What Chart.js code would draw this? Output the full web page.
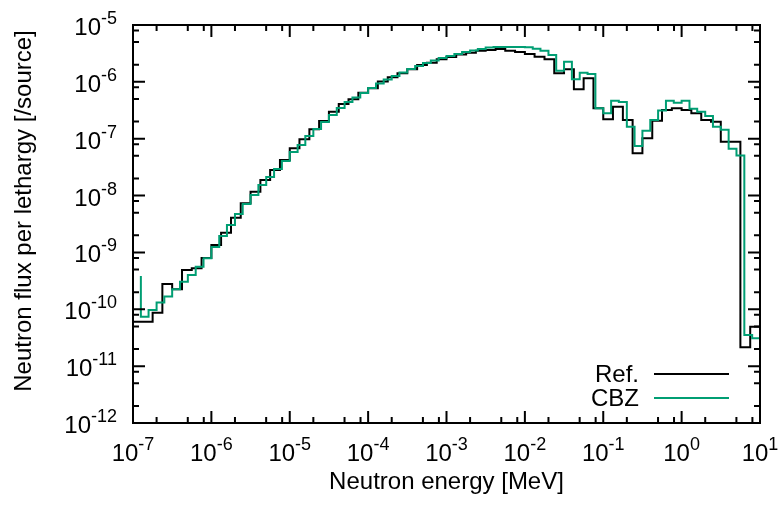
<!DOCTYPE html>
<html>
<head>
<meta charset="utf-8">
<script src="https://cdn.jsdelivr.net/npm/chart.js@4/dist/chart.umd.min.js"></script>
<style>
  html, body { margin: 0; padding: 0; background: #fff; }
  canvas { display: block; }
</style>
</head>
<body>
<canvas id="fluxChart" width="778" height="505"></canvas>
<script>
// group lower edges (last entry = upper edge of the last group), MeV
const refEnergy = [
  1.00e-7, 1.33e-7, 1.78e-7, 2.37e-7, 3.16e-7, 4.22e-7, 5.62e-7, 7.50e-7,
  1.00e-6, 1.33e-6, 1.78e-6, 2.37e-6, 3.16e-6, 4.22e-6, 5.62e-6, 7.50e-6,
  1.00e-5, 1.33e-5, 1.78e-5, 2.37e-5, 3.16e-5, 4.22e-5, 5.62e-5, 7.50e-5,
  1.00e-4, 1.33e-4, 1.78e-4, 2.37e-4, 3.16e-4, 4.22e-4, 5.62e-4, 7.50e-4,
  1.00e-3, 1.33e-3, 1.78e-3, 2.37e-3, 3.16e-3, 4.22e-3, 5.62e-3, 7.50e-3,
  1.00e-2, 1.33e-2, 1.78e-2, 2.37e-2, 3.16e-2, 4.22e-2, 5.62e-2, 7.50e-2,
  1.00e-1, 1.33e-1, 1.78e-1, 2.37e-1, 3.16e-1, 4.22e-1, 5.62e-1, 7.50e-1,
  1.00, 1.33, 1.78, 2.37, 3.16, 4.22, 5.62, 7.50,
  10.0
];
const refFlux = [
  6.05e-11, 6.05e-11, 8.71e-11, 2.79e-10, 2.25e-10, 4.91e-10, 5.26e-10, 7.98e-10,
  1.35e-9, 2.22e-9, 4.08e-9, 7.31e-9, 1.17e-8, 1.88e-8, 2.82e-8, 4.23e-8,
  6.79e-8, 9.77e-8, 1.47e-7, 2.05e-7, 2.99e-7, 4.08e-7, 4.93e-7, 6.44e-7,
  7.71e-7, 1.01e-6, 1.20e-6, 1.42e-6, 1.66e-6, 1.98e-6, 2.17e-6, 2.49e-6,
  2.74e-6, 3.03e-6, 3.26e-6, 3.53e-6, 3.63e-6, 3.78e-6, 3.53e-6, 3.35e-6,
  3.09e-6, 2.77e-6, 2.49e-6, 1.42e-6, 1.66e-6, 7.40e-7, 1.16e-6, 3.43e-7,
  2.20e-7, 3.66e-7, 2.13e-7, 5.54e-8, 1.02e-7, 2.07e-7, 3.20e-7, 3.43e-7,
  3.20e-7, 2.80e-7, 2.13e-7, 1.99e-7, 8.87e-8, 8.87e-8, 2.15e-11, 4.94e-11
];

const cbzEnergy = [
  1.26e-7, 1.26e-7, 1.58e-7, 2.00e-7, 2.51e-7, 3.16e-7, 3.98e-7, 5.01e-7, 6.31e-7, 7.94e-7,
  1.00e-6, 1.26e-6, 1.58e-6, 2.00e-6, 2.51e-6, 3.16e-6, 3.98e-6, 5.01e-6, 6.31e-6, 7.94e-6,
  1.00e-5, 1.26e-5, 1.58e-5, 2.00e-5, 2.51e-5, 3.16e-5, 3.98e-5, 5.01e-5, 6.31e-5, 7.94e-5,
  1.00e-4, 1.26e-4, 1.58e-4, 2.00e-4, 2.51e-4, 3.16e-4, 3.98e-4, 5.01e-4, 6.31e-4, 7.94e-4,
  1.00e-3, 1.26e-3, 1.58e-3, 2.00e-3, 2.51e-3, 3.16e-3, 3.98e-3, 5.01e-3, 6.31e-3, 7.94e-3,
  1.00e-2, 1.26e-2, 1.58e-2, 2.00e-2, 2.51e-2, 3.16e-2, 3.98e-2, 5.01e-2, 6.31e-2, 7.94e-2,
  1.00e-1, 1.26e-1, 1.58e-1, 2.00e-1, 2.51e-1, 3.16e-1, 3.98e-1, 5.01e-1, 6.31e-1, 7.94e-1,
  1.00, 1.26, 1.58, 2.00, 2.51, 3.16, 3.98, 5.01, 6.31, 7.94,
  10.0
];
const cbzFlux = [
  3.85e-10, 7.41e-11, 9.72e-11, 1.31e-10, 1.67e-10, 2.25e-10, 3.06e-10, 4.01e-10, 5.61e-10, 7.89e-10,
  1.25e-9, 1.95e-9, 3.04e-9, 4.74e-9, 7.11e-9, 1.02e-8, 1.53e-8, 2.12e-8, 2.93e-8, 4.06e-8,
  5.84e-8, 7.76e-8, 1.12e-7, 1.48e-7, 1.97e-7, 2.61e-7, 3.47e-7, 4.43e-7, 5.31e-7, 6.37e-7,
  7.80e-7, 9.36e-7, 1.10e-6, 1.27e-6, 1.46e-6, 1.68e-6, 1.90e-6, 2.15e-6, 2.38e-6, 2.63e-6,
  2.85e-6, 3.09e-6, 3.35e-6, 3.56e-6, 3.78e-6, 4.02e-6, 4.10e-6, 4.10e-6, 4.10e-6, 4.10e-6,
  4.05e-6, 3.83e-6, 3.53e-6, 2.97e-6, 1.57e-6, 2.26e-6, 1.11e-6, 1.45e-6, 1.37e-6, 3.43e-7,
  2.80e-7, 4.67e-7, 4.43e-7, 1.63e-7, 7.45e-8, 1.38e-7, 2.13e-7, 3.13e-7, 4.65e-7, 4.30e-7,
  4.65e-7, 3.37e-7, 2.99e-7, 2.51e-7, 1.63e-7, 1.44e-7, 6.67e-8, 5.07e-8, 3.53e-11, 3.09e-11
];

const xTickExponents = ['-7', '-6', '-5', '-4', '-3', '-2', '-1', '0', '1'];
const yTickExponents = ['-12', '-11', '-10', '-9', '-8', '-7', '-6', '-5'];
const minorSteps = [2, 5, 8];

const FONT = '"Liberation Sans", Arial, Helvetica, sans-serif';

// histogram points: value held from each lower edge up to the next edge
function toSteps(energy, flux) {
  const pts = flux.map((v, i) => ({ x: energy[i], y: v }));
  pts.push({ x: energy[energy.length - 1], y: flux[flux.length - 1] });
  return pts;
}

const gnuplotFrame = {
  id: 'gnuplotFrame',
  afterDatasetsDraw(chart) {
    const { ctx, chartArea: a, scales } = chart;
    const xs = scales.x, ys = scales.y;
    ctx.save();
    ctx.strokeStyle = '#000';
    ctx.lineWidth = 2;

    // inward ticks on all four sides
    ctx.beginPath();
    xTickExponents.forEach((e, i) => {
      const dec = Math.pow(10, Number(e));
      const px = xs.getPixelForValue(dec);
      ctx.moveTo(px, a.bottom); ctx.lineTo(px, a.bottom - 12);
      ctx.moveTo(px, a.top); ctx.lineTo(px, a.top + 12);
      if (i < xTickExponents.length - 1) {
        minorSteps.forEach(m => {
          const mx = xs.getPixelForValue(m * dec);
          ctx.moveTo(mx, a.bottom); ctx.lineTo(mx, a.bottom - 6);
          ctx.moveTo(mx, a.top); ctx.lineTo(mx, a.top + 6);
        });
      }
    });
    yTickExponents.forEach((e, i) => {
      const dec = Math.pow(10, Number(e));
      const py = ys.getPixelForValue(dec);
      ctx.moveTo(a.left, py); ctx.lineTo(a.left + 12, py);
      ctx.moveTo(a.right, py); ctx.lineTo(a.right - 12, py);
      if (i < yTickExponents.length - 1) {
        minorSteps.forEach(m => {
          const my = ys.getPixelForValue(m * dec);
          ctx.moveTo(a.left, my); ctx.lineTo(a.left + 6, my);
          ctx.moveTo(a.right, my); ctx.lineTo(a.right - 6, my);
        });
      }
    });
    ctx.stroke();
    ctx.strokeRect(a.left, a.top, a.right - a.left, a.bottom - a.top);

    // tick labels 10^n
    ctx.fillStyle = '#000';
    ctx.textBaseline = 'alphabetic';
    const baseFont = '24px ' + FONT, supFont = '18px ' + FONT;
    xTickExponents.forEach(e => {
      const px = xs.getPixelForValue(Math.pow(10, Number(e)));
      ctx.font = baseFont;
      const w10 = ctx.measureText('10').width;
      ctx.font = supFont;
      const wExp = ctx.measureText(e).width;
      const x0 = px - (w10 + wExp) / 2;
      ctx.textAlign = 'left';
      ctx.font = baseFont;
      ctx.fillText('10', x0, a.bottom + 38);
      ctx.font = supFont;
      ctx.fillText(e, x0 + w10, a.bottom + 27);
    });
    yTickExponents.forEach(e => {
      const py = ys.getPixelForValue(Math.pow(10, Number(e)));
      const right = a.left - 16;
      ctx.font = supFont;
      const wExp = ctx.measureText(e).width;
      ctx.textAlign = 'left';
      ctx.fillText(e, right - wExp, py - 1);
      ctx.font = baseFont;
      ctx.textAlign = 'right';
      ctx.fillText('10', right - wExp, py + 10);
    });

    // axis titles
    ctx.font = '24px ' + FONT;
    ctx.textAlign = 'center';
    ctx.fillText('Neutron energy [MeV]', (a.left + a.right) / 2, 489);
    ctx.save();
    ctx.translate(31, 211);
    ctx.rotate(-Math.PI / 2);
    ctx.fillText('Neutron flux per lethargy [/source]', 0, 0);
    ctx.restore();

    // key, bottom right inside the plot
    const keyRows = [382, 406];
    chart.data.datasets.forEach((ds, i) => {
      const by = keyRows[i];
      ctx.textAlign = 'right';
      ctx.fillStyle = '#000';
      ctx.fillText(ds.label, 639, by);
      ctx.strokeStyle = ds.borderColor;
      ctx.lineWidth = 2;
      ctx.beginPath();
      ctx.moveTo(654, by - 8);
      ctx.lineTo(729, by - 8);
      ctx.stroke();
    });
    ctx.restore();
  }
};

new Chart(document.getElementById('fluxChart'), {
  type: 'scatter',
  data: {
    datasets: [
      {
        label: 'Ref.',
        data: toSteps(refEnergy, refFlux),
        borderColor: '#000000',
        borderWidth: 2,
        showLine: true,
        stepped: true,
        pointRadius: 0,
        fill: false,
        order: 1
      },
      {
        label: 'CBZ',
        data: toSteps(cbzEnergy, cbzFlux),
        borderColor: '#009e73',
        borderWidth: 2,
        showLine: true,
        stepped: true,
        pointRadius: 0,
        fill: false,
        order: 0
      }
    ]
  },
  options: {
    responsive: false,
    animation: false,
    layout: { padding: { top: 25, right: 18, left: 0, bottom: 0 } },
    plugins: { legend: { display: false }, tooltip: { enabled: false } },
    scales: {
      x: {
        type: 'logarithmic',
        min: 1e-7,
        max: 10,
        ticks: { display: false },
        grid: { display: false },
        border: { display: false },
        afterFit(scale) { scale.height = 82; }
      },
      y: {
        type: 'logarithmic',
        min: 1e-12,
        max: 1e-5,
        ticks: { display: false },
        grid: { display: false },
        border: { display: false },
        afterFit(scale) { scale.width = 133; }
      }
    }
  },
  plugins: [gnuplotFrame]
});
</script>
</body>
</html>
